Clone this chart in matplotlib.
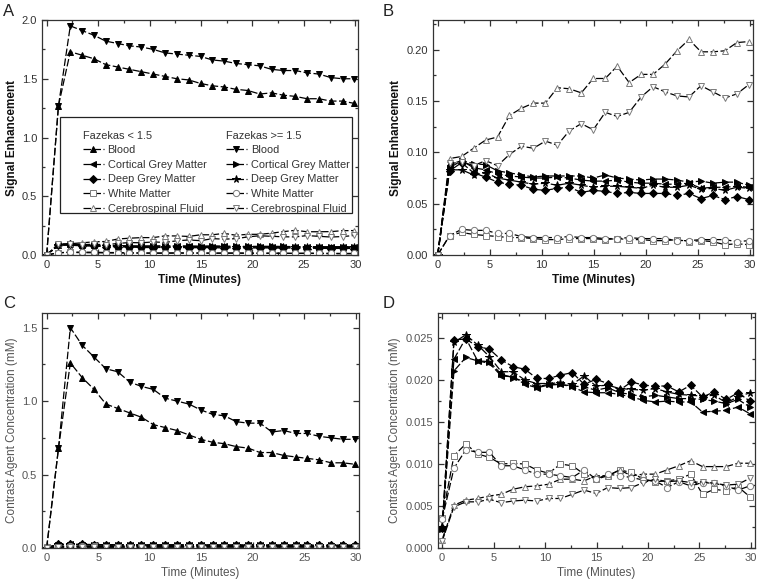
import matplotlib
matplotlib.use("Agg")
import matplotlib.pyplot as plt
from matplotlib.ticker import MultipleLocator
from matplotlib.patches import Rectangle

plt.rcParams['font.family'] = ['Liberation Sans', 'DejaVu Sans']

# ---------------- data ----------------
time_min = [0, 1.15, 2.3, 3.45, 4.6, 5.75, 6.9, 8.05, 9.2, 10.35, 11.5, 12.65, 13.8, 14.95,
            16.1, 17.25, 18.4, 19.55, 20.7, 21.85, 23.0, 24.15, 25.3, 26.45, 27.6, 28.75, 29.9]

# Signal enhancement (panels A, B)
se_blood_lo = [0, 1.27, 1.73, 1.70, 1.67, 1.62, 1.60, 1.58, 1.56, 1.54, 1.52, 1.50, 1.49, 1.46,
               1.44, 1.43, 1.41, 1.40, 1.37, 1.38, 1.36, 1.35, 1.33, 1.33, 1.31, 1.31, 1.29]
se_blood_hi = [0, 1.27, 1.95, 1.91, 1.87, 1.82, 1.80, 1.78, 1.77, 1.75, 1.72, 1.71, 1.70, 1.69,
               1.66, 1.65, 1.63, 1.62, 1.61, 1.58, 1.57, 1.57, 1.55, 1.54, 1.51, 1.50, 1.50]
se_cgm_lo = [0, 0.088, 0.092, 0.085, 0.083, 0.079, 0.077, 0.076, 0.075, 0.075, 0.076, 0.075, 0.073, 0.072,
             0.072, 0.073, 0.071, 0.070, 0.070, 0.069, 0.069, 0.070, 0.065, 0.066, 0.066, 0.067, 0.066]
se_cgm_hi = [0, 0.085, 0.092, 0.089, 0.088, 0.082, 0.080, 0.078, 0.076, 0.077, 0.077, 0.077, 0.077, 0.075,
             0.078, 0.075, 0.074, 0.073, 0.074, 0.074, 0.073, 0.071, 0.072, 0.070, 0.071, 0.071, 0.068]
se_dgm_lo = [0, 0.082, 0.090, 0.080, 0.076, 0.071, 0.069, 0.068, 0.064, 0.063, 0.065, 0.066, 0.061, 0.063,
             0.062, 0.060, 0.061, 0.060, 0.060, 0.060, 0.058, 0.060, 0.055, 0.058, 0.054, 0.057, 0.054]
se_dgm_hi = [0, 0.083, 0.083, 0.078, 0.080, 0.075, 0.073, 0.071, 0.069, 0.070, 0.068, 0.070, 0.068, 0.066,
             0.067, 0.067, 0.066, 0.065, 0.068, 0.066, 0.066, 0.068, 0.064, 0.065, 0.063, 0.066, 0.065]
se_wm_lo = [0, 0.019, 0.022, 0.020, 0.019, 0.018, 0.017, 0.017, 0.016, 0.015, 0.015, 0.016, 0.016, 0.016,
            0.015, 0.016, 0.015, 0.015, 0.014, 0.014, 0.015, 0.013, 0.014, 0.013, 0.010, 0.011, 0.010]
se_wm_hi = [0, 0.019, 0.025, 0.024, 0.024, 0.021, 0.021, 0.018, 0.017, 0.017, 0.017, 0.018, 0.017, 0.017,
            0.016, 0.016, 0.017, 0.016, 0.016, 0.016, 0.014, 0.014, 0.015, 0.015, 0.015, 0.013, 0.014]
se_csf_lo = [0, 0.094, 0.096, 0.104, 0.112, 0.115, 0.136, 0.143, 0.148, 0.148, 0.163, 0.162, 0.158, 0.172,
             0.172, 0.184, 0.168, 0.176, 0.176, 0.186, 0.199, 0.210, 0.198, 0.198, 0.199, 0.207, 0.208]
se_csf_hi = [0, 0.090, 0.091, 0.087, 0.092, 0.087, 0.098, 0.106, 0.104, 0.111, 0.107, 0.121, 0.128, 0.122,
             0.139, 0.135, 0.139, 0.154, 0.164, 0.159, 0.155, 0.154, 0.165, 0.159, 0.153, 0.157, 0.166]

# Contrast agent concentration (panels C, D)
ca_blood_lo = [0, 0.68, 1.26, 1.16, 1.08, 0.98, 0.95, 0.92, 0.89, 0.84, 0.82, 0.80, 0.77, 0.74,
               0.72, 0.71, 0.69, 0.68, 0.65, 0.65, 0.63, 0.62, 0.61, 0.60, 0.58, 0.58, 0.57]
ca_blood_hi = [0, 0.68, 1.50, 1.38, 1.30, 1.22, 1.20, 1.13, 1.10, 1.08, 1.02, 1.00, 0.98, 0.94,
               0.91, 0.90, 0.86, 0.85, 0.85, 0.79, 0.80, 0.78, 0.78, 0.76, 0.75, 0.74, 0.74]
ca_cgm_lo = [0.0023, 0.0225, 0.0250, 0.0223, 0.0220, 0.0205, 0.0204, 0.0195, 0.0191, 0.0194, 0.0195, 0.0192, 0.0186, 0.0185,
             0.0185, 0.0183, 0.0180, 0.0176, 0.0174, 0.0175, 0.0174, 0.0174, 0.0162, 0.0163, 0.0164, 0.0168, 0.0160]
ca_cgm_hi = [0.0023, 0.0211, 0.0227, 0.0223, 0.0222, 0.0207, 0.0203, 0.0198, 0.0192, 0.0195, 0.0195, 0.0193, 0.0192, 0.0188,
             0.0191, 0.0185, 0.0183, 0.0180, 0.0182, 0.0180, 0.0178, 0.0178, 0.0177, 0.0175, 0.0172, 0.0177, 0.0168]
ca_dgm_lo = [0.0024, 0.0248, 0.0249, 0.0240, 0.0237, 0.0224, 0.0216, 0.0213, 0.0202, 0.0202, 0.0206, 0.0209, 0.0195, 0.0201,
             0.0196, 0.0188, 0.0198, 0.0194, 0.0193, 0.0193, 0.0186, 0.0194, 0.0180, 0.0186, 0.0177, 0.0185, 0.0175]
ca_dgm_hi = [0.0025, 0.0245, 0.0254, 0.0242, 0.0228, 0.0210, 0.0210, 0.0200, 0.0196, 0.0196, 0.0197, 0.0195, 0.0205, 0.0193,
             0.0194, 0.0190, 0.0189, 0.0188, 0.0190, 0.0186, 0.0183, 0.0182, 0.0181, 0.0182, 0.0173, 0.0180, 0.0185]
ca_wm_lo = [0.0036, 0.0110, 0.0124, 0.0112, 0.0108, 0.0100, 0.0101, 0.0100, 0.0093, 0.0089, 0.0100, 0.0098, 0.0088, 0.0082,
            0.0086, 0.0093, 0.0090, 0.0082, 0.0079, 0.0080, 0.0082, 0.0088, 0.0064, 0.0070, 0.0068, 0.0073, 0.0061]
ca_wm_hi = [0.0034, 0.0095, 0.0117, 0.0114, 0.0114, 0.0098, 0.0098, 0.0093, 0.0088, 0.0088, 0.0086, 0.0084, 0.0093, 0.0082,
            0.0088, 0.0086, 0.0084, 0.0081, 0.0080, 0.0072, 0.0079, 0.0074, 0.0078, 0.0077, 0.0074, 0.0069, 0.0074]
ca_csf_lo = [0.0010, 0.0051, 0.0057, 0.0059, 0.0062, 0.0064, 0.0070, 0.0073, 0.0074, 0.0076, 0.0082, 0.0082, 0.0080, 0.0086,
             0.0086, 0.0093, 0.0086, 0.0088, 0.0088, 0.0093, 0.0098, 0.0104, 0.0097, 0.0097, 0.0097, 0.0101, 0.0101]
ca_csf_hi = [0.0008, 0.0049, 0.0055, 0.0055, 0.0058, 0.0054, 0.0056, 0.0057, 0.0056, 0.0059, 0.0059, 0.0064, 0.0069, 0.0065,
             0.0072, 0.0071, 0.0072, 0.0078, 0.0082, 0.0079, 0.0080, 0.0078, 0.0079, 0.0077, 0.0075, 0.0076, 0.0083]

labels = ["Blood", "Cortical Grey Matter", "Deep Grey Matter", "White Matter", "Cerebrospinal Fluid"]
group_titles = ["Fazekas < 1.5", "Fazekas >= 1.5"]

# ---------------- styles ----------------
OPEN_EDGE = "#7a7a7a"
style_lo = [dict(marker='^', mfc='black', mec='black'),
            dict(marker='<', mfc='black', mec='black'),
            dict(marker='D', mfc='black', mec='black', ms=3.6),
            dict(marker='s', mfc='white', mec=OPEN_EDGE),
            dict(marker='^', mfc='white', mec=OPEN_EDGE)]
style_hi = [dict(marker='v', mfc='black', mec='black'),
            dict(marker='>', mfc='black', mec='black'),
            dict(marker='*', mfc='black', mec='black', ms=5.5),
            dict(marker='o', mfc='white', mec=OPEN_EDGE),
            dict(marker='v', mfc='white', mec=OPEN_EDGE)]


def draw(ax, t, series, styles):
    handles = []
    for y, st, lab in zip(series, styles, labels):
        if y is None:
            handles.append(None)
            continue
        kw = dict(color='black', lw=0.9, linestyle=(0, (6, 2)), ms=4.5, mew=0.7)
        kw.update(st)
        h, = ax.plot(t, y, label=lab, **kw)
        handles.append(h)
    return handles


def style_axes(ax, xlim, ylim, xmaj, ymaj, ymin, ylabel, bold, labcol, tickcol):
    ax.set_xlim(*xlim)
    ax.set_ylim(*ylim)
    ax.xaxis.set_major_locator(MultipleLocator(xmaj))
    ax.xaxis.set_minor_locator(MultipleLocator(xmaj / 2))
    ax.yaxis.set_major_locator(MultipleLocator(ymaj))
    ax.yaxis.set_minor_locator(MultipleLocator(ymin))
    ax.tick_params(which='both', direction='in', top=True, right=True, colors='#333333',
                   labelcolor=tickcol, labelsize=8, width=0.9)
    ax.tick_params(which='major', length=4)
    ax.tick_params(which='minor', length=2)
    for s in ax.spines.values():
        s.set_color('#333333')
        s.set_linewidth(0.9)
    w = 'bold' if bold else 'normal'
    ax.set_xlabel("Time (Minutes)", fontsize=8.5, fontweight=w, color=labcol, labelpad=3)
    ax.set_ylabel(ylabel, fontsize=8.5, fontweight=w, color=labcol, labelpad=3)


fig = plt.figure(figsize=(7.57, 5.82), dpi=100)
W, H = 757.0, 582.0


def add_axes(l, r, t, b):
    return fig.add_axes([l / W, 1 - b / H, (r - l) / W, (b - t) / H])


axA = add_axes(42, 358, 20, 255)
axB = add_axes(433, 753, 20, 255)
axC = add_axes(42, 359, 313, 548)
axD = add_axes(438, 755, 313, 548)

# Panel A
hA_lo = draw(axA, time_min, [se_blood_lo, se_cgm_lo, se_dgm_lo, se_wm_lo, se_csf_lo], style_lo)
hA_hi = draw(axA, time_min, [se_blood_hi, se_cgm_hi, se_dgm_hi, se_wm_hi, se_csf_hi], style_hi)
style_axes(axA, (-0.45, 30.25), (0, 2.0), 5, 0.5, 0.25, "Signal Enhancement", True, '#111111', '#333333')

# Panel B
draw(axB, time_min, [None, se_cgm_lo, se_dgm_lo, se_wm_lo, se_csf_lo], style_lo)
draw(axB, time_min, [None, se_cgm_hi, se_dgm_hi, se_wm_hi, se_csf_hi], style_hi)
style_axes(axB, (-0.45, 30.3), (0, 0.229), 5, 0.05, 0.025, "Signal Enhancement", True, '#111111', '#333333')
axB.yaxis.set_major_formatter(matplotlib.ticker.FormatStrFormatter('%.2f'))

# Panel C
draw(axC, time_min, [ca_blood_lo, ca_cgm_lo, ca_dgm_lo, ca_wm_lo, ca_csf_lo], style_lo)
draw(axC, time_min, [ca_blood_hi, ca_cgm_hi, ca_dgm_hi, ca_wm_hi, ca_csf_hi], style_hi)
style_axes(axC, (-0.45, 30.3), (0, 1.6), 5, 0.5, 0.25, "Contrast Agent Concentration (mM)", False, '#555555', '#555555')

# Panel D
draw(axD, time_min, [None, ca_cgm_lo, ca_dgm_lo, ca_wm_lo, ca_csf_lo], style_lo)
draw(axD, time_min, [None, ca_cgm_hi, ca_dgm_hi, ca_wm_hi, ca_csf_hi], style_hi)
style_axes(axD, (-0.4, 30.4), (0, 0.028), 5, 0.005, 0.0025, "Contrast Agent Concentration (mM)", False, '#555555', '#555555')
axD.yaxis.set_major_formatter(matplotlib.ticker.FormatStrFormatter('%.3f'))

# Legend in panel A: two groups inside one frame
leg_kw = dict(loc='upper left', frameon=False, fontsize=7.9, title_fontsize=7.9,
              handlelength=1.9, handletextpad=0.35, labelspacing=0.42, borderpad=0,
              numpoints=1, alignment='left')
leg1 = axA.legend(handles=hA_lo, labels=labels, title=group_titles[0],
                  bbox_to_anchor=(0.112, 0.553), **leg_kw)
axA.add_artist(leg1)
leg2 = axA.legend(handles=hA_hi, labels=labels, title=group_titles[1],
                  bbox_to_anchor=(0.565, 0.553), **leg_kw)
for lg in (leg1, leg2):
    lg.get_title().set_color('#333333')
    for tx in lg.get_texts():
        tx.set_color('#333333')
axA.add_patch(Rectangle((0.057, 0.179), 0.924, 0.408, transform=axA.transAxes,
                        fill=True, facecolor='white', edgecolor='#222222', lw=0.9, zorder=4.5))
leg1.set_zorder(5)
leg2.set_zorder(5)

# Panel letters
for txt, x, y in [("A", 3, 4), ("B", 383, 4), ("C", 3, 296), ("D", 383, 296)]:
    fig.text(x / W, 1 - y / H, txt, fontsize=12, va='top', ha='left', color='#222222')

fig.savefig("out.png", dpi=100)
